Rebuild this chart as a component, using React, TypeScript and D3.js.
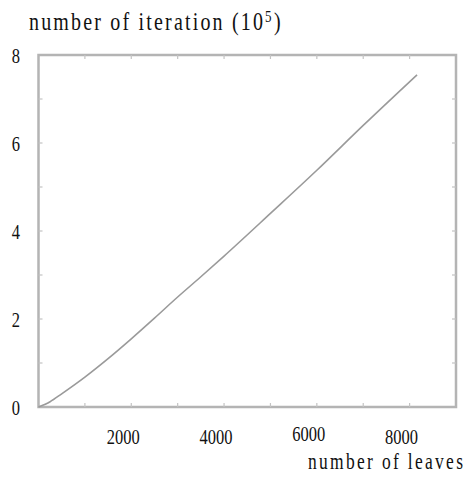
import React from "react";
import * as d3 from "d3";

const leaves = [0, 250, 500, 1000, 1500, 2000, 2500, 3000, 3500, 4000, 5000, 6000, 7000, 8160];
const iterations = [0, 0.12, 0.3, 0.68, 1.1, 1.55, 2.02, 2.5, 2.96, 3.43, 4.4, 5.38, 6.4, 7.55];
const xTickLabels = [2000, 4000, 6000, 8000];
const yTickLabels = [0, 2, 4, 6, 8];
const xMinorTicks = [1000, 2000, 3000, 4000, 5000, 6000, 7000, 8000];
const yMinorTicks = [1, 2, 3, 4, 5, 6, 7];
const xDomain = [0, 9000];
const yDomain = [0, 8];

const W = 463;
const H = 477;
const PL = 38.5;
const PR = 456;
const PT = 55;
const PB = 407;
const FONT = "'Liberation Serif', 'Times New Roman', serif";
const SY = 1.3;

export default function App() {
  const x = d3.scaleLinear().domain(xDomain).range([PL, PR]);
  const y = d3.scaleLinear().domain(yDomain).range([PB, PT]);
  const data = leaves.map((l, i) => [l, iterations[i]] as [number, number]);
  const line = d3
    .line<[number, number]>()
    .x((d) => x(d[0]))
    .y((d) => y(d[1]))
    .curve(d3.curveMonotoneX);

  const x0 = x(xDomain[0]);
  const x1 = x(xDomain[1]);
  const y0 = y(yDomain[0]);
  const y1 = y(yDomain[1]);
  const frameColor = "#b4b4b4";
  const textColor = "#111";

  return (
    <svg width={W} height={H} style={{ position: "absolute", left: 0, top: 0, background: "#fff" }}>
      {/* frame, built from the scales */}
      <path
        d={`M${x0},${y1}L${x1},${y1}L${x1},${y0}L${x0},${y0}Z`}
        fill="none"
        stroke={frameColor}
        strokeWidth={2.5}
      />
      {/* minor ticks */}
      {xMinorTicks.map((t) => (
        <g key={"xt" + t} stroke="#c4c4c4" strokeWidth={1.2}>
          <line x1={x(t)} x2={x(t)} y1={y0} y2={y0 - 4} />
          <line x1={x(t)} x2={x(t)} y1={y1} y2={y1 + 4} />
        </g>
      ))}
      {yMinorTicks.map((t) => (
        <g key={"yt" + t} stroke="#c4c4c4" strokeWidth={1.2}>
          <line x1={x0} x2={x0 + 4} y1={y(t)} y2={y(t)} />
          <line x1={x1} x2={x1 - 4} y1={y(t)} y2={y(t)} />
        </g>
      ))}
      {/* data line */}
      <path d={line(data) || ""} fill="none" stroke="#9a9a9a" strokeWidth={1.6} />

      {/* y tick labels */}
      {yTickLabels.map((t) => (
        <text
          key={"yl" + t}
          transform={`translate(20,${y(t) + 8}) scale(1,${SY})`}
          textAnchor="end"
          fontFamily={FONT}
          fontSize={16.5}
          fill={textColor}
        >
          {t}
        </text>
      ))}
      {/* x tick labels */}
      {xTickLabels.map((t) => (
        <text
          key={"xl" + t}
          transform={`translate(${x(t) - 8},${t === 6000 ? 441 : 444}) scale(1,${SY})`}
          textAnchor="middle"
          fontFamily={FONT}
          fontSize={16.5}
          fill={textColor}
        >
          {t}
        </text>
      ))}

      {/* y axis title */}
      <text
        transform={`translate(29,30) scale(1,${SY})`}
        fontFamily={FONT}
        fontSize={20}
        fill={textColor}
        textLength={234}
        lengthAdjust="spacing"
      >
        number of iteration (10
      </text>
      <text
        transform={`translate(265,22) scale(1,${SY})`}
        fontFamily={FONT}
        fontSize={13}
        fill={textColor}
      >
        5
      </text>
      <text
        transform={`translate(274,30) scale(1,${SY})`}
        fontFamily={FONT}
        fontSize={20}
        fill={textColor}
      >
        )
      </text>

      {/* x axis title */}
      <text
        transform={`translate(308,469) scale(1,${SY})`}
        fontFamily={FONT}
        fontSize={17.5}
        fill={textColor}
        textLength={155}
        lengthAdjust="spacing"
      >
        number of leaves
      </text>
    </svg>
  );
}
